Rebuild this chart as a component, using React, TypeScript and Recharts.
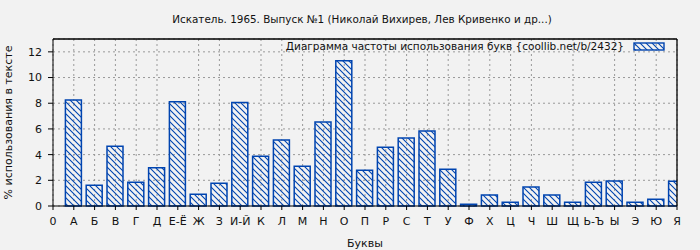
import { BarChart, Bar, XAxis, YAxis, CartesianGrid, Legend, ReferenceLine } from "recharts";

const title = "Искатель. 1965. Выпуск №1 (Николай Вихирев, Лев Кривенко и др...)";
const seriesName = "Диаграмма частоты использования букв {coollib.net/b/2432}";

const letters = [
  "А", "Б", "В", "Г", "Д", "Е-Ё", "Ж", "З", "И-Й", "К",
  "Л", "М", "Н", "О", "П", "Р", "С", "Т", "У", "Ф",
  "Х", "Ц", "Ч", "Ш", "Щ", "Ь-Ъ", "Ы", "Э", "Ю", "Я",
];
const percents = [
  8.26, 1.62, 4.66, 1.85, 2.97, 8.12, 0.91, 1.77, 8.05, 3.88,
  5.13, 3.1, 6.54, 11.3, 2.79, 4.58, 5.29, 5.83, 2.87, 0.13,
  0.86, 0.29, 1.48, 0.86, 0.29, 1.85, 1.95, 0.29, 0.52, 1.93,
];
const xTickLabels = ["0", ...letters];
const yTicks = [0, 2, 4, 6, 8, 10, 12];

const data = letters.map((letter, i) => ({ pos: i + 1, letter, value: percents[i] }));

const BLUE = "#0044b0";
const FONT = "DejaVu Sans";

// "\" hatching, 6px step, drawn crisp so it looks like the pixel pattern of the original
function Hatch({ id }: { id: string }) {
  return (
    <pattern id={id} patternUnits="userSpaceOnUse" width="6" height="6">
      <path d="M0,0 L6,6 M-1,5 L1,7 M5,-1 L7,1" stroke={BLUE} strokeWidth="1.1" />
    </pattern>
  );
}

function LegendBox() {
  return (
    <div style={{ display: "flex", alignItems: "center", fontFamily: FONT, fontSize: 10.5, color: "#111", whiteSpace: "nowrap" }}>
      <span>{seriesName}</span>
      <svg width="32" height="9" style={{ marginLeft: 9 }}>
        <defs>
          <Hatch id="hatch-legend" />
        </defs>
        <rect x="1" y="1" width="30" height="7" fill="url(#hatch-legend)" stroke={BLUE} strokeWidth="1.4" />
      </svg>
    </div>
  );
}

export default function App() {
  return (
    <div style={{ position: "absolute", left: 0, top: 0, width: 700, height: 250, background: "#f2f2f2" }}>
      <div
        style={{
          position: "absolute",
          top: 13,
          left: 0,
          width: 724,
          textAlign: "center",
          fontFamily: FONT,
          fontSize: 10.4,
          color: "#111",
        }}
      >
        {title}
      </div>
      <BarChart width={700} height={250} data={data} margin={{ top: 39, right: 23, left: 0, bottom: 0 }}>
        <defs>
          <Hatch id="hatch" />
        </defs>
        <CartesianGrid stroke="#999" strokeDasharray="2 3" />
        <XAxis
          dataKey="pos"
          type="number"
          domain={[0, 30]}
          ticks={xTickLabels.map((_, i) => i)}
          tickFormatter={(v: number) => xTickLabels[v]}
          allowDataOverflow
          height={44}
          tickSize={4}
          tickMargin={7}
          stroke="#000"
          tick={{ fontSize: 11, fontFamily: FONT, fill: "#111" }}
          label={{ value: "Буквы", position: "insideBottom", offset: 3, fontSize: 11, fontFamily: FONT, fill: "#111" }}
        />
        <YAxis
          domain={[0, 13]}
          ticks={yTicks}
          width={53}
          tickSize={5}
          tickMargin={6}
          stroke="#000"
          tick={{ fontSize: 11, fontFamily: FONT, fill: "#111" }}
          label={{
            content: ({ viewBox }: any) => (
              <text
                x={viewBox.x + 12}
                y={viewBox.y + viewBox.height / 2}
                transform={`rotate(-90, ${viewBox.x + 12}, ${viewBox.y + viewBox.height / 2})`}
                textAnchor="middle"
                fontSize={11}
                fontFamily={FONT}
                fill="#111"
              >
                % использования в тексте
              </text>
            ),
          }}
        />
        <ReferenceLine y={13} stroke="#000" strokeWidth={1.3} />
        <ReferenceLine x={30} stroke="#000" strokeWidth={1.3} />
        <Bar
          dataKey="value"
          name={seriesName}
          barSize={16}
          fill="url(#hatch)"
          stroke={BLUE}
          strokeWidth={1.5}
          isAnimationActive={false}
        />
        <Legend
          layout="vertical"
          align="center"
          verticalAlign="middle"
          content={() => <LegendBox />}
          wrapperStyle={{ top: 40, left: "auto", right: 35, width: "auto" }}
        />
      </BarChart>
    </div>
  );
}
